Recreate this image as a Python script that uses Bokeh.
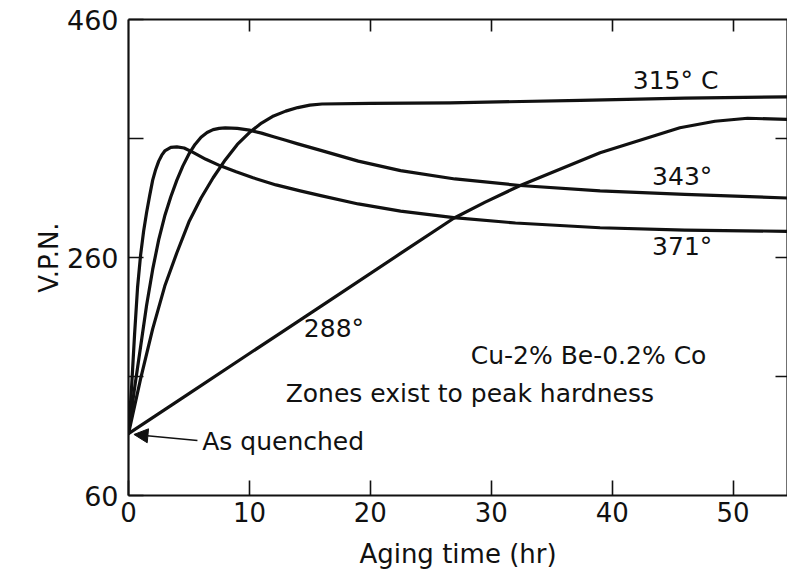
from bokeh.plotting import figure
from bokeh.models import Label, Arrow, NormalHead, LinearAxis, FixedTicker, Range1d
from bokeh.embed import file_html
from bokeh.resources import INLINE

# ---- data ----
t_315 = [0, 1, 2, 3, 4, 5, 6, 7, 8, 9, 10, 11, 12, 13, 14, 15, 16, 20, 26.6, 37.4, 46.0, 54.5]
v_315 = [112, 158, 200, 236, 264, 290, 310, 327, 342, 355, 365, 373, 379, 383, 386, 388, 389, 389.5, 390, 392, 394, 395]

t_343 = [0, 0.5, 1, 1.5, 2, 2.5, 3, 3.5, 4, 4.5, 5, 5.5, 6, 6.5, 7, 7.5, 8, 9, 10, 11, 12, 13, 14, 15.9, 19, 22.5, 27, 32.4, 39, 46, 54.5]
v_343 = [112, 150, 185, 220, 250, 275, 295, 311, 325, 337, 347, 355, 361, 365, 367.5, 368.5, 369, 368.5, 367, 364.5, 361.5, 358.5, 355.5, 350, 341, 333, 326, 320.5, 316, 313, 310]

t_371 = [0, 0.25, 0.5, 0.75, 1.0, 1.25, 1.5, 1.75, 2.0, 2.25, 2.5, 2.75, 3.0, 3.5, 4.0, 4.6, 5.3, 6.4, 7.6, 8.9, 10.3, 12.2, 14.2, 15.9, 19, 22.5, 26.9, 32, 39, 46, 54.5]
v_371 = [112, 150, 195, 235, 262, 282, 298, 312, 325, 334, 341, 346, 349.5, 352.5, 353, 352, 348.5, 342.5, 337, 332, 327, 321, 316, 312, 305, 299, 293.5, 289, 285, 283, 282]

t_288 = [0, 5.0, 10.0, 12.56, 17.4, 22.5, 26.9, 29.5, 32.4, 39.0, 45.6, 48.5, 51.2, 54.5]
v_288 = [112, 145.6, 179.3, 196.5, 229, 263.4, 293, 306.5, 320.5, 348, 369, 374.5, 377, 376]

x_ticks = [0, 10, 20, 30, 40, 50]
y_ticks = [60, 160, 260, 360, 460]
y_tick_labels = {160: "", 360: ""}

FONT = "DejaVu Sans"
INK = "#111111"

p = figure(width=787, height=572, x_range=Range1d(0, 54.5), y_range=Range1d(60, 460),
           output_backend="svg", toolbar_location=None,
           min_border_left=128, min_border_right=0, min_border_top=19, min_border_bottom=77)
p.grid.visible = False
p.outline_line_color = None
p.background_fill_color = "white"
p.border_fill_color = "white"

for t, v in [(t_315, v_315), (t_343, v_343), (t_371, v_371), (t_288, v_288)]:
    p.line(t, v, line_color=INK, line_width=3.2, line_join="round", line_cap="round")

# axes
xa = p.xaxis[0]
xa.ticker = FixedTicker(ticks=x_ticks)
xa.axis_label = "Aging time (hr)"
ya = p.yaxis[0]
ya.ticker = FixedTicker(ticks=y_ticks)
ya.major_label_overrides = y_tick_labels
ya.axis_label = "V.P.N."

top = LinearAxis(ticker=FixedTicker(ticks=x_ticks[1:]),
                 major_label_overrides={t: "" for t in x_ticks[1:]})
right = LinearAxis(ticker=FixedTicker(ticks=y_ticks[1:4]),
                   major_label_overrides={t: "" for t in y_ticks[1:4]})
p.add_layout(top, "above")
p.add_layout(right, "right")

for ax in [xa, ya, top, right]:
    ax.axis_line_color = INK
    ax.axis_line_width = 2.2
    ax.major_tick_line_color = INK
    ax.major_tick_line_width = 1.6
    ax.major_tick_in = 15
    ax.major_tick_out = 0
    ax.minor_tick_line_color = None
    ax.major_label_text_font = FONT
    ax.major_label_text_font_size = "12px"
    ax.major_label_text_color = INK
    ax.axis_label_text_font = FONT
    ax.axis_label_text_font_style = "normal"
    ax.axis_label_text_color = INK

for ax in [top, right]:
    ax.major_label_standoff = 0
    ax.major_tick_in = 12

xa.major_label_text_font_size = "26px"
xa.major_label_standoff = 6
xa.axis_label_text_font_size = "26px"
xa.axis_label_standoff = 14
ya.major_label_text_font_size = "27px"
ya.major_label_standoff = 10
ya.axis_label_text_font_size = "26px"
ya.axis_label_standoff = 0

# annotations
def lab(x, y, text, size="25px"):
    p.add_layout(Label(x=x, y=y, text=text, text_font=FONT, text_font_size=size,
                       text_color=INK, text_baseline="middle", text_align="left"))

lab(41.7, 408.7, "315° C")
lab(43.3, 328, "343°")
lab(43.3, 269, "371°")
lab(14.5, 200, "288°")
lab(28.3, 177.6, "Cu-2% Be-0.2% Co")
lab(13.0, 145.7, "Zones exist to peak hardness")
lab(6.1, 105.4, "As quenched")

p.add_layout(Arrow(end=NormalHead(size=14, fill_color=INK, line_color=INK, line_width=1),
                   x_start=5.7, y_start=106.2, x_end=0.45, y_end=111.3,
                   line_color=INK, line_width=1.6))

open("out.html", "w").write(file_html(p, INLINE))
